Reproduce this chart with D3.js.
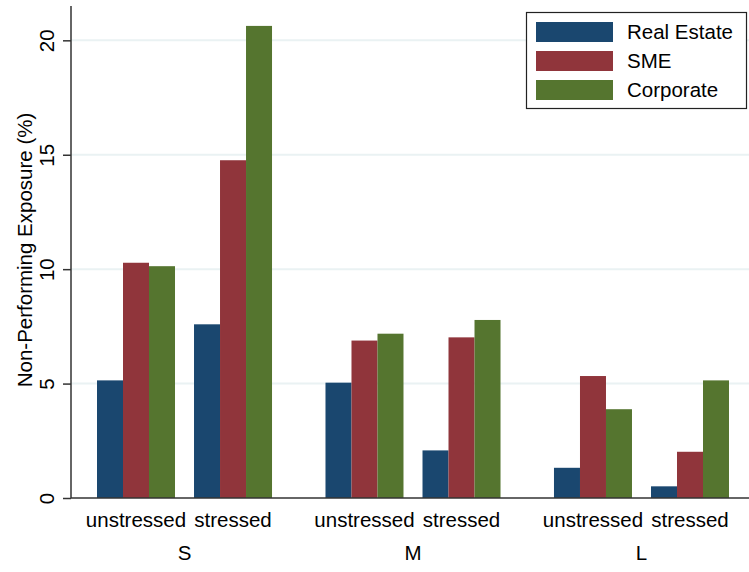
<!DOCTYPE html>
<html>
<head>
<meta charset="utf-8">
<script src="https://cdn.jsdelivr.net/npm/d3@7"></script>
<style>
  body { margin: 0; background: #fff; }
  svg text { font-family: "Liberation Sans", Arial, sans-serif; fill: #000; }
</style>
</head>
<body>
<svg id="chart" width="749" height="572"></svg>
<script>
// data
var sizes = ["S", "M", "L"];
var stress = ["unstressed", "stressed"];
var sectors = ["Real Estate", "SME", "Corporate"];
var colours = ["#1a476f", "#90353b", "#55752f"];
// values in order size -> stress -> sector
var realEstate = [5.14, 7.59, 5.04, 2.08, 1.32, 0.51];
var sme        = [10.28, 14.76, 6.88, 7.02, 5.33, 2.02];
var corporate  = [10.13, 20.63, 7.18, 7.78, 3.88, 5.14];
var yTicks = [0, 5, 10, 15, 20];

var svg = d3.select("#chart");
var fs = "20.5px";

// scales
var x0 = d3.scaleBand().domain(sizes).range([97, 729]).paddingInner(0.234).paddingOuter(0);
var x1 = d3.scaleBand().domain(stress).range([0, x0.bandwidth()]).paddingInner(0.196);
var x2 = d3.scaleBand().domain(sectors).range([0, x1.bandwidth()]);
var y = d3.scaleLinear().domain([0, 21.5]).range([498, 6]);
var colour = d3.scaleOrdinal().domain(sectors).range(colours);

// flat rows for drawing
var rows = [];
var series = [realEstate, sme, corporate];
sizes.forEach(function(s, i){
    stress.forEach(function(t, j){
        sectors.forEach(function(c, k){
            rows.push({size: s, stress: t, sector: c, value: series[k][i*2+j]});
        });
    });
});

// grid lines
svg.append("g")
    .selectAll("line")
    .data(yTicks.filter(function(d){ return d > 0; }))
    .enter().append("line")
    .attr("x1", 71).attr("x2", 749)
    .attr("y1", function(d){ return y(d); })
    .attr("y2", function(d){ return y(d); })
    .attr("stroke", "#eaf2f3")
    .attr("stroke-width", 2);

// bars
svg.append("g")
    .selectAll("rect")
    .data(rows)
    .enter().append("rect")
    .attr("x", function(d){ return x0(d.size) + x1(d.stress) + x2(d.sector); })
    .attr("width", x2.bandwidth())
    .attr("y", function(d){ return y(d.value); })
    .attr("height", function(d){ return y(0) - y(d.value); })
    .attr("fill", function(d){ return colour(d.sector); });

// y axis
var yAxis = svg.append("g")
    .attr("transform", "translate(71,0)")
    .call(d3.axisLeft(y).tickValues(yTicks).tickSize(8).tickSizeOuter(0).tickFormat(d3.format("d")));
yAxis.select(".domain").attr("stroke", "#333").attr("stroke-width", 1.5);
yAxis.selectAll(".tick line").attr("stroke", "#333").attr("stroke-width", 1.5);
yAxis.selectAll(".tick text")
    .attr("x", 0).attr("dy", 0)
    .attr("transform", "translate(-17,0) rotate(-90)")
    .attr("text-anchor", "middle")
    .style("font-size", fs)
    .attr("fill", "#000");

// bottom axis line
svg.append("line")
    .attr("x1", 71).attr("x2", 749)
    .attr("y1", y(0)).attr("y2", y(0))
    .attr("stroke", "#333").attr("stroke-width", 1.5);

// extend top of y axis
yAxis.select(".domain").attr("d", "M0," + y(0) + "V" + y.range()[1]);

// stress labels
sizes.forEach(function(s){
    svg.append("g").selectAll("text")
        .data(stress)
        .enter().append("text")
        .attr("x", function(t){ return x0(s) + x1(t) + x1.bandwidth()/2; })
        .attr("y", 527)
        .attr("text-anchor", "middle")
        .style("font-size", fs)
        .text(function(t){ return t; });
});

// size labels
svg.append("g").selectAll("text")
    .data(sizes)
    .enter().append("text")
    .attr("x", function(s){ return x0(s) + x0.bandwidth()/2; })
    .attr("y", 560)
    .attr("text-anchor", "middle")
    .style("font-size", fs)
    .text(function(s){ return s; });

// y title
svg.append("text")
    .attr("transform", "translate(32,250) rotate(-90)")
    .attr("text-anchor", "middle")
    .style("font-size", fs)
    .text("Non-Performing Exposure (%)");

// legend
var legend = svg.append("g");
legend.append("rect")
    .attr("x", 526.5).attr("y", 12.5)
    .attr("width", 220).attr("height", 96)
    .attr("fill", "#fff").attr("stroke", "#222").attr("stroke-width", 1.2);
var items = legend.selectAll("g.item")
    .data(sectors)
    .enter().append("g")
    .attr("class", "item")
    .attr("transform", function(d, i){ return "translate(536," + (22 + i*29) + ")"; });
items.append("rect")
    .attr("width", 77).attr("height", 20)
    .attr("fill", function(d){ return colour(d); });
items.append("text")
    .attr("x", 91).attr("y", 17)
    .style("font-size", fs)
    .text(function(d){ return d; });
</script>
</body>
</html>
